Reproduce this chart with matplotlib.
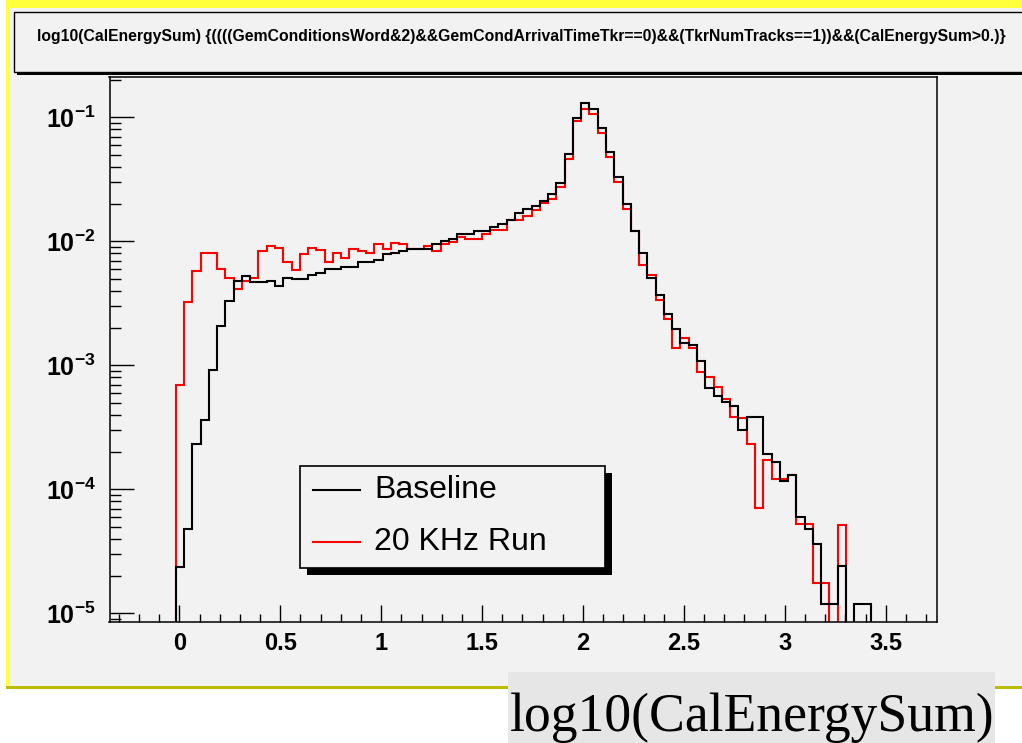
#!/usr/bin/env python3
"""
Replot of a ROOT histogram: log10(CalEnergySum), Baseline vs 20 KHz Run
"""

import numpy as np
import matplotlib
matplotlib.use("Agg")
import matplotlib.pyplot as plt
from matplotlib.patches import Rectangle
from matplotlib.lines import Line2D
from matplotlib.ticker import FixedLocator, FuncFormatter, MultipleLocator, NullFormatter

# binning of the original TTree::Draw (100 bins)
x_low = -0.346
bin_width = 0.041
n_bins = 100
first_bin = 8   # first filled bin (left edge near 0)

# normalised bin contents, starting at first_bin
baseline = [
    2.36e-5, 4.78e-5, 2.31e-4, 3.63e-4, 9.2e-4, 2.08e-3, 3.33e-3, 4.8e-3,
    5.3e-3, 4.69e-3, 4.69e-3, 4.8e-3, 4.4e-3, 5.1e-3, 4.97e-3, 4.97e-3,
    5.35e-3, 5.54e-3, 6.0e-3, 6.0e-3, 6.26e-3, 6.26e-3, 6.79e-3, 6.79e-3,
    7.1e-3, 7.88e-3, 8.13e-3, 8.38e-3, 8.64e-3, 8.64e-3, 8.64e-3, 9.48e-3,
    1.01e-2, 1.047e-2, 1.14e-2, 1.14e-2, 1.22e-2, 1.22e-2, 1.31e-2, 1.39e-2,
    1.49e-2, 1.71e-2, 1.82e-2, 1.93e-2, 2.13e-2, 2.42e-2, 2.95e-2, 5.1e-2,
    9.9e-2, 0.130, 0.117, 8.27e-2, 5.24e-2, 3.33e-2, 2.0e-2, 1.22e-2,
    8.03e-3, 5.1e-3, 3.7e-3, 2.6e-3, 1.96e-3, 1.51e-3, 1.45e-3, 1.09e-3,
    6.55e-4, 5.71e-4, 5.04e-4, 4.71e-4, 3.02e-4, 3.86e-4, 3.86e-4, 1.92e-4,
    1.68e-4, 1.17e-4, 1.31e-4, 6.0e-5, 4.8e-5, 3.6e-5, 1.2e-5, 1.2e-5,
    2.4e-5, 0.0, 1.2e-5, 1.2e-5,
]
run_20khz = [
    6.96e-4, 3.27e-3, 5.82e-3, 8.03e-3, 8.03e-3, 6.0e-3, 5.1e-3, 4.11e-3,
    4.8e-3, 5.1e-3, 8.3e-3, 9.2e-3, 8.85e-3, 6.85e-3, 5.9e-3, 7.85e-3,
    8.8e-3, 8.53e-3, 6.87e-3, 8.03e-3, 7.33e-3, 8.64e-3, 8.38e-3, 8.03e-3,
    9.55e-3, 8.64e-3, 9.78e-3, 9.55e-3, 8.64e-3, 8.64e-3, 9.2e-3, 8.3e-3,
    9.6e-3, 9.9e-3, 1.09e-2, 1.047e-2, 1.047e-2, 1.14e-2, 1.24e-2, 1.24e-2,
    1.49e-2, 1.49e-2, 1.61e-2, 1.80e-2, 2.06e-2, 2.19e-2, 2.77e-2, 4.62e-2,
    9.42e-2, 0.117, 0.1067, 7.54e-2, 4.83e-2, 3.03e-2, 1.82e-2, 1.22e-2,
    6.46e-3, 5.37e-3, 3.38e-3, 2.36e-3, 1.38e-3, 1.66e-3, 1.38e-3, 8.9e-4,
    8.13e-4, 6.67e-4, 5.33e-4, 3.86e-4, 3.75e-4, 2.33e-4, 7.05e-5, 1.73e-4,
    1.21e-4, 1.21e-4, 1.31e-4, 5.3e-5, 5.3e-5, 1.77e-5, 1.77e-5, 0.0,
    5.2e-5,
]

title = ("log10(CalEnergySum) {((((GemConditionsWord&2)&&GemCondArrivalTimeTkr==0)"
         "&&(TkrNumTracks==1))&&(CalEnergySum>0.)}")
x_label = "log10(CalEnergySum)"
legend_labels = ["Baseline", "20 KHz Run"]
x_ticks = [0, 0.5, 1, 1.5, 2, 2.5, 3, 3.5]
x_tick_labels = ["0", "0.5", "1", "1.5", "2", "2.5", "3", "3.5"]
y_ticks = [1e-5, 1e-4, 1e-3, 1e-2, 1e-1]

W, H = 1022, 743
PAD_GRAY = "#f2f2f2"

plt.rcParams["font.family"] = ["Liberation Sans", "DejaVu Sans"]
plt.rcParams["mathtext.fontset"] = "custom"
plt.rcParams["mathtext.rm"] = "Liberation Sans:bold"
plt.rcParams["mathtext.bf"] = "Liberation Sans:bold"
plt.rcParams["mathtext.it"] = "Liberation Sans:bold"


def fx(px):
    return px / W


def fy(py):
    return 1 - py / H


def full_hist(vals):
    out = np.zeros(n_bins)
    out[first_bin:first_bin + len(vals)] = vals
    # empty bins drop below the frame on a log axis
    return np.where(out > 0, out, 1e-12)


def main():
    fig = plt.figure(figsize=(W / 100, H / 100), dpi=100)
    fig.patch.set_facecolor("white")

    # slide highlight border + gray pad
    fig.patches.append(Rectangle((fx(6), fy(689)), fx(W) - fx(6), fy(0) - fy(689),
                                 transform=fig.transFigure, facecolor="#ffff3c",
                                 edgecolor="none", zorder=0))
    fig.patches.append(Rectangle((fx(6), fy(689)), 1, fy(686) - fy(689),
                                 transform=fig.transFigure, facecolor="#bdbd00",
                                 edgecolor="none", zorder=0.5))
    fig.patches.append(Rectangle((fx(10), fy(686)), 1, fy(8) - fy(686),
                                 transform=fig.transFigure, facecolor=PAD_GRAY,
                                 edgecolor="none", zorder=0.6))

    # title box with shadow
    fig.patches.append(Rectangle((fx(17), fy(75)), 1, fy(14) - fy(75),
                                 transform=fig.transFigure, facecolor="black",
                                 edgecolor="none", zorder=1))
    fig.patches.append(Rectangle((fx(14), fy(72)), 1, fy(12) - fy(72),
                                 transform=fig.transFigure, facecolor=PAD_GRAY,
                                 edgecolor="black", lw=1.0, zorder=1.1))
    fig.text(fx(521), fy(37), title, ha="center", va="center",
             fontsize=11.3, fontweight="bold", zorder=2)

    ax = fig.add_axes([fx(109.5), fy(622), fx(937) - fx(109.5), fy(77) - fy(622)])
    ax.set_facecolor(PAD_GRAY)
    ax.set_zorder(3)

    edges = x_low + bin_width * np.arange(n_bins + 1)
    ax.stairs(full_hist(run_20khz), edges, baseline=1e-12, color="#ff0000",
              lw=1.5, zorder=2)
    ax.stairs(full_hist(baseline), edges, baseline=1e-12, color="black",
              lw=1.5, zorder=3)

    ax.set_yscale("log")
    ax.set_xlim(edges[0], edges[-1])
    ax.set_ylim(8.53e-6, 0.212)

    ax.xaxis.set_major_locator(FixedLocator(x_ticks))
    ax.set_xticklabels(x_tick_labels)
    ax.xaxis.set_minor_locator(MultipleLocator(0.1))
    ax.yaxis.set_major_locator(FixedLocator(y_ticks))
    ax.yaxis.set_major_formatter(FuncFormatter(
        lambda v, pos: r"$10^{%d}$" % int(round(np.log10(v)))))
    minor = [m * 10.0 ** e for e in range(-6, 0) for m in range(2, 10)]
    ax.yaxis.set_minor_locator(FixedLocator(minor))
    ax.yaxis.set_minor_formatter(NullFormatter())

    ax.tick_params(axis="x", which="major", direction="in", length=12, width=1.0,
                   pad=7, labelsize=17)
    ax.tick_params(axis="x", which="minor", direction="in", length=6, width=1.0)
    ax.tick_params(axis="y", which="major", direction="in", length=17, width=1.0,
                   pad=10, labelsize=18)
    ax.tick_params(axis="y", which="minor", direction="in", length=8, width=1.0)
    for lab in ax.get_xticklabels():
        lab.set_fontweight("bold")
    for sp in ax.spines.values():
        sp.set_linewidth(1.1)

    # legend box with heavy ROOT-style shadow
    fig.patches.append(Rectangle((fx(307), fy(575)), fx(612) - fx(307), fy(473) - fy(575),
                                 transform=fig.transFigure, facecolor="black",
                                 edgecolor="none", zorder=10))
    fig.patches.append(Rectangle((fx(300), fy(568)), fx(605) - fx(300), fy(466) - fy(568),
                                 transform=fig.transFigure, facecolor=PAD_GRAY,
                                 edgecolor="black", lw=1.2, zorder=11))
    for i, (lab, col) in enumerate(zip(legend_labels, ["black", "#ff0000"])):
        yy = fy(490 + 52 * i)
        fig.lines.append(Line2D([fx(313), fx(360)], [yy, yy], transform=fig.transFigure,
                                color=col, lw=1.5, zorder=12))
        fig.text(fx(374), yy, lab, ha="left", va="center", fontsize=23, zorder=12)

    # slide caption under the pad
    fig.patches.append(Rectangle((fx(508), fy(743)), fx(995) - fx(508), fy(672) - fy(743),
                                 transform=fig.transFigure, facecolor="#e6e6e6",
                                 edgecolor="none", zorder=20))
    fig.text(fx(510), fy(731), x_label, ha="left", va="baseline", fontsize=38.6,
             family=["Liberation Serif", "DejaVu Serif"], zorder=21)

    fig.savefig("out.png", dpi=100)


if __name__ == "__main__":
    main()
